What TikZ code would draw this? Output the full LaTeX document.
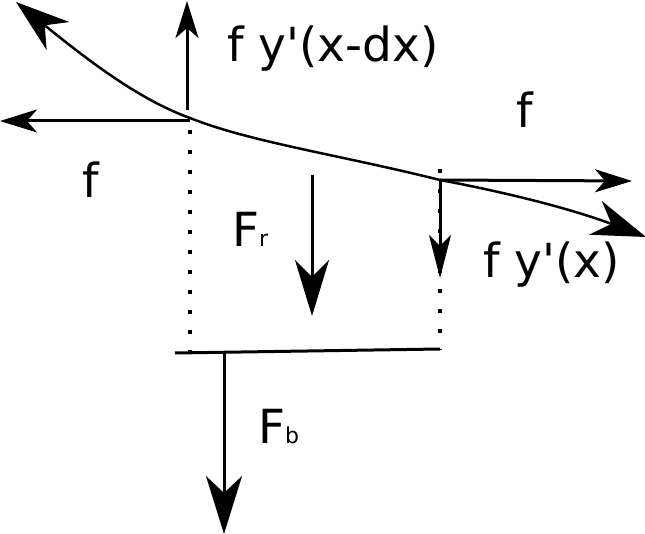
\documentclass[tikz,border=0pt]{standalone}
\usepackage{fontspec}
\setmainfont{DejaVu Sans}
\usetikzlibrary{arrows.meta}
\begin{document}
\begin{tikzpicture}[x=1pt,y=-1pt,
  force/.style={line width=3pt,-{Stealth[length=37pt,width=23pt,inset=10pt]}},
  bigforce/.style={line width=3pt,-{Stealth[length=56pt,width=34pt,inset=17pt]}},
  dots/.style={line width=4pt,dash pattern=on 4pt off 16pt},
  lbl/.style={inner sep=0pt,font=\fontsize{47}{53}\selectfont}]
\useasboundingbox (0,0) rectangle (645,534);
% key points
\coordinate (L) at (190,118);
\coordinate (R) at (440,180);
\coordinate (Ltip) at (16,2);
\coordinate (Rtip) at (646,237);
% dotted verticals
\draw[dots] (190,130) -- (190,356);
\draw[dots] (440,169) -- (440,350);
% string curve with arrow ends
\draw[line width=2.5pt,{Stealth[length=54pt,width=36pt,inset=17pt]}-{Stealth[length=54pt,width=36pt,inset=17pt]}]
  (Ltip) .. controls (90,62) and (140,100) .. (L)
  .. controls (250,142) and (340,155) .. (R)
  .. controls (520,195) and (580,212) .. (Rtip);
% forces at left end
\coordinate (Lup) at (187,1);
\coordinate (Lleft) at (0,121);
\draw[force] (187,110) -- (Lup);
\draw[force] (190,121) -- (Lleft);
% forces at right end
\coordinate (Rright) at (632,181);
\coordinate (Rdown) at (440,278);
\draw[force] (R) -- (Rright);
\draw[force,-{Stealth[length=43pt,width=22pt,inset=11pt]}] (R) -- (Rdown);
% bottom bar
\coordinate (BL) at (175,353);
\coordinate (BR) at (440,349);
\draw[line width=3pt] (BL) -- (BR);
% F_r and F_b
\coordinate (Frs) at (312,175);
\coordinate (Fre) at (312,316);
\draw[bigforce] (Frs) -- (Fre);
\coordinate (Fbs) at (224,351);
\coordinate (Fbe) at (224,534);
\draw[bigforce,-{Stealth[length=58pt,width=36pt,inset=17pt]}] (Fbs) -- (Fbe);
% labels
\node[lbl,anchor=base west] (t1) at (227,62) {f y\textquotesingle(x-dx)};
\node[lbl,anchor=base west] (t2) at (516,128) {f};
\node[lbl,anchor=base west] (t3) at (82,198) {f};
\node[lbl,anchor=base west] (t4) at (483,278) {f y\textquotesingle(x)};
\node[lbl,anchor=base west] (t5) at (232,247) {F{\fontsize{22}{26}\selectfont r}};
\node[lbl,anchor=base west] (t6) at (258,443) {F{\fontsize{22}{26}\selectfont b}};
\end{tikzpicture}
\end{document}
